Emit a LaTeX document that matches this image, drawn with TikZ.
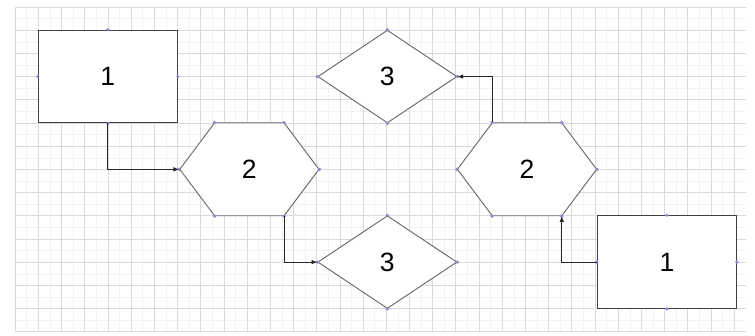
\documentclass[tikz,border=0pt]{standalone}
\usepackage{fontspec}
\setmainfont{Liberation Sans}
\usepackage{tikz}
\usetikzlibrary{arrows.meta,shapes.geometric,shapes.symbols}
\definecolor{pinblue}{RGB}{140,140,215}

\begin{document}
\begin{tikzpicture}[x=0.8cm, y=-0.8cm, font=\fontsize{26}{26}\selectfont,
    box/.style={draw=black!75, line width=0.9pt, fill=white, inner sep=0pt,
      minimum width=4.8cm, minimum height=3.2cm},
    hexa/.style={signal, signal to=west and east, signal pointer angle=106.26,
      draw=black!60, line width=0.9pt, fill=white, inner sep=0pt,
      minimum width=4.8cm, minimum height=3.2cm},
    rhomb/.style={diamond, draw=black!60, line width=0.9pt, fill=white, inner sep=0pt,
      minimum width=4.8cm, minimum height=3.2cm},
    link/.style={-{Latex[length=2mm,width=1.6mm]}, line width=0.8pt, black!85}]
  \useasboundingbox (-0.65,-0.3) rectangle (31.9,14.18);
  \foreach \x in {0.5,1.5,...,31} \draw[black!5] (\x,0) -- (\x,14);
  \foreach \y in {0.5,1.5,...,13.5} \draw[black!5] (0,\y) -- (31.5,\y);
  \foreach \x in {0,1,...,31} \draw[black!14, line width=0.6pt] (\x,0) -- (\x,14);
  \foreach \y in {0,1,...,14} \draw[black!14, line width=0.6pt] (0,\y) -- (31.5,\y);

  \node[box]   (b1) at (4,3)      {1};
  \node[hexa]  (h1) at (10.1,7)   {2};
  \node[rhomb] (rA) at (16.05,3)  {3};
  \node[rhomb] (rB) at (16.05,11) {3};
  \node[hexa]  (h2) at (22.07,7)  {2};
  \node[box]   (b2) at (28.1,11)  {1};

  \foreach \n in {b1,b2,rA,rB}
    \foreach \a in {north,south,east,west}
      \fill[pinblue] (\n.\a) circle (1.8pt);
  \foreach \n in {h1,h2} {
    \fill[pinblue] (\n.west) circle (1.8pt) (\n.east) circle (1.8pt);
    \fill[pinblue] ([xshift=-1.2cm]\n.north) circle (1.8pt)
      ([xshift=1.2cm]\n.north) circle (1.8pt);
    \fill[pinblue] ([xshift=-1.2cm]\n.south) circle (1.8pt)
      ([xshift=1.2cm]\n.south) circle (1.8pt);
  }

  \draw[link] (b1.south) |- (h1.west);
  \draw[link] ([xshift=1.2cm]h1.south) |- (rB.west);
  \draw[link] (b2.west) -| ([xshift=1.2cm]h2.south);
  \draw[link] ([xshift=-1.2cm]h2.north) |- (rA.east);
\end{tikzpicture}
\end{document}
